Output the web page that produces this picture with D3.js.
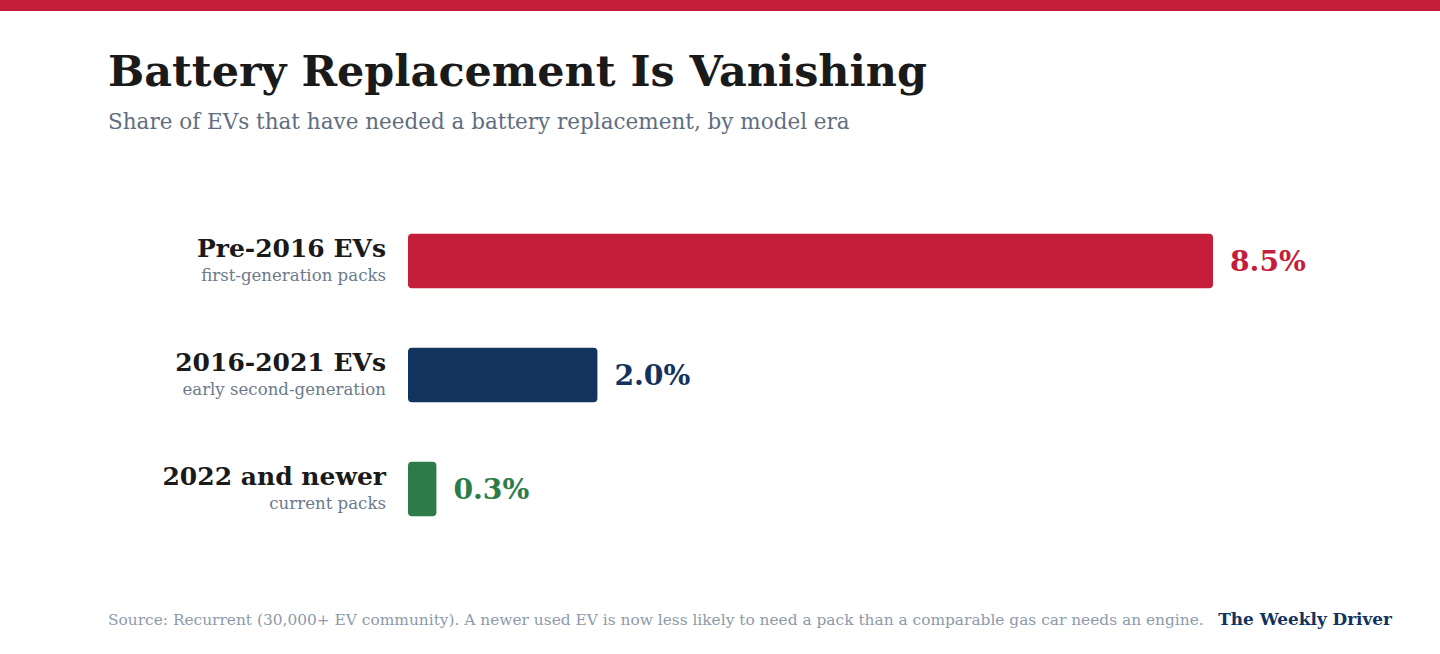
<!DOCTYPE html>
<html>
<head>
<meta charset="utf-8">
<script src="https://cdn.jsdelivr.net/npm/d3@7"></script>
<style>
  body { margin: 0; background: #fff; }
  svg { display: block; font-family: Georgia, "DejaVu Serif", serif; }
</style>
</head>
<body>
<svg id="chart" width="1440" height="654"></svg>
<script>
const categories = ["Pre-2016 EVs", "2016-2021 EVs", "2022 and newer"]
const sublabels = ["first-generation packs", "early second-generation", "current packs"]
const values = [8.5, 2.0, 0.3]
const colors = ["#c41e3a", "#12335e", "#2e7b4a"]

const svg = d3.select("#chart")
const width = 1440

svg.append("rect")
  .attr("x", 0).attr("y", 0)
  .attr("width", width).attr("height", 11)
  .attr("fill", "#c41e3a")

svg.append("text")
  .attr("x", 108).attr("y", 86)
  .attr("font-size", 42.9)
  .attr("font-weight", "bold")
  .attr("fill", "#1a1a1a")
  .text("Battery Replacement Is Vanishing")

svg.append("text")
  .attr("x", 108).attr("y", 129)
  .attr("font-size", 21.5)
  .attr("fill", "#5f6e80")
  .text("Share of EVs that have needed a battery replacement, by model era")

const x = d3.scaleLinear()
  .domain([0, d3.max(values)])
  .range([408, 1213])

const y = d3.scaleBand()
  .domain(categories)
  .range([204, 546])
  .paddingInner(0.52)
  .paddingOuter(0.26)

const rows = svg.append("g")
  .selectAll("g")
  .data(categories)
  .join("g")

rows.append("rect")
  .attr("x", x(0))
  .attr("y", d => y(d))
  .attr("width", (d, i) => x(values[i]) - x(0))
  .attr("height", y.bandwidth())
  .attr("rx", 4)
  .attr("fill", (d, i) => colors[i])

rows.append("text")
  .attr("x", 386)
  .attr("y", d => y(d) + 23)
  .attr("text-anchor", "end")
  .attr("font-size", 25)
  .attr("font-weight", "bold")
  .attr("fill", "#1a1a1a")
  .text(d => d)

rows.append("text")
  .attr("x", 386)
  .attr("y", d => y(d) + 47)
  .attr("text-anchor", "end")
  .attr("font-size", 16.6)
  .attr("fill", "#6b7a8c")
  .text((d, i) => sublabels[i])

rows.append("text")
  .attr("x", (d, i) => x(values[i]) + 17)
  .attr("y", d => y(d) + y.bandwidth() / 2 + 10)
  .attr("font-size", 28.2)
  .attr("font-weight", "bold")
  .attr("fill", (d, i) => colors[i])
  .text((d, i) => values[i].toFixed(1) + "%")

svg.append("text")
  .attr("x", 108).attr("y", 625)
  .attr("font-size", 15.4)
  .attr("fill", "#8c9aab")
  .text("Source: Recurrent (30,000+ EV community). A newer used EV is now less likely to need a pack than a comparable gas car needs an engine.")

svg.append("text")
  .attr("x", 1392).attr("y", 625)
  .attr("text-anchor", "end")
  .attr("font-size", 16.9)
  .attr("font-weight", "bold")
  .attr("fill", "#12335e")
  .text("The Weekly Driver")
</script>
</body>
</html>
